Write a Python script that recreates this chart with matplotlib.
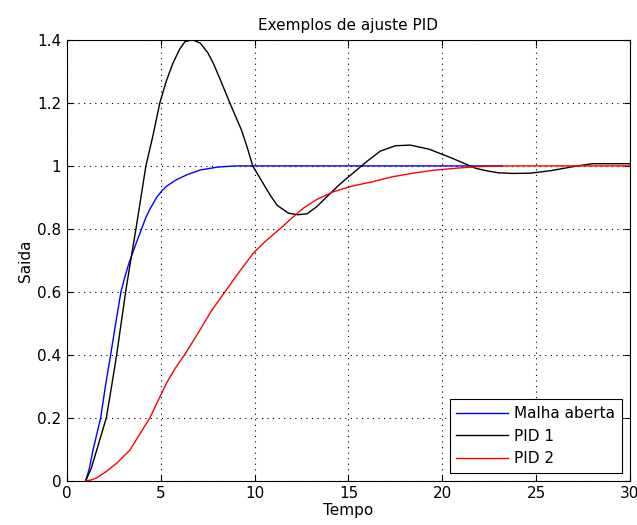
import matplotlib
matplotlib.use('Agg')
import matplotlib.pyplot as plt
from matplotlib.ticker import FormatStrFormatter

plt.rcParams['font.family'] = ['DejaVu Sans']
plt.rcParams['font.size'] = 11

# values
t_malha = [1, 1.2, 1.4, 1.6, 1.8, 2.05, 2.33, 2.6, 2.88, 3.1, 3.3, 3.6, 3.98, 4.2, 4.4, 4.78,
           5.05, 5.3, 5.8, 6.4, 7.1, 7.6, 8, 9, 23.2]
y_malha = [0, 0.04, 0.1, 0.15, 0.2, 0.3, 0.4, 0.5, 0.6, 0.65, 0.69, 0.74, 0.8, 0.835, 0.86, 0.9,
           0.92, 0.935, 0.955, 0.972, 0.987, 0.992, 0.996, 1.0, 1.0]

t_pid1 = [1, 1.3, 1.6, 1.85, 2.1, 2.38, 2.65, 3.13, 3.4, 3.68, 4.21, 4.6, 4.95, 5.3, 5.65, 6.0,
          6.3, 6.7, 7.1, 7.5, 7.8, 8.2, 8.68, 9.3, 9.6, 9.9, 10.2, 10.5, 10.8, 11.2, 11.8, 12.3,
          12.8, 13.3, 13.9, 14.6, 15.3, 16.0, 16.7, 17.5, 18.3, 19.3, 20.5, 21.8, 22.4, 23.0,
          23.8, 24.7, 25.8, 27.0, 28.0, 30]
y_pid1 = [0, 0.04, 0.1, 0.15, 0.2, 0.3, 0.4, 0.6, 0.7, 0.8, 1.0, 1.1, 1.2, 1.27, 1.326, 1.37,
          1.395, 1.40, 1.39, 1.36, 1.326, 1.27, 1.2, 1.114, 1.06, 1.0, 0.97, 0.94, 0.91, 0.875,
          0.85, 0.845, 0.848, 0.87, 0.905, 0.945, 0.98, 1.015, 1.047, 1.064, 1.066, 1.053, 1.025,
          0.992, 0.984, 0.978, 0.976, 0.977, 0.985, 0.998, 1.007, 1.007]

t_pid2 = [1, 1.3, 1.6, 2.1, 2.65, 3.36, 3.9, 4.42, 4.9, 5.31, 5.8, 6.3, 7.09, 7.7, 8.42, 9.2,
          9.93, 10.6, 11.35, 12.0, 12.6, 13.3, 14.2, 15.2, 16.3, 17.3, 18.45, 19.5, 20.8, 22, 23.4, 30]
y_pid2 = [0, 0.003, 0.01, 0.03, 0.056, 0.098, 0.15, 0.2, 0.26, 0.311, 0.36, 0.403, 0.479, 0.54,
          0.6, 0.665, 0.723, 0.762, 0.8, 0.835, 0.866, 0.893, 0.918, 0.936, 0.95, 0.965, 0.977,
          0.986, 0.993, 0.998, 1.0, 1.0]

fig = plt.figure(figsize=(6.37, 5.25), dpi=100)
ax = fig.add_axes([0.105, 0.084, 0.884, 0.840])

ax.plot(t_malha, y_malha, color='#0000ff', lw=1, label='Malha aberta')
ax.plot(t_pid1, y_pid1, color='black', lw=1, label='PID 1')
ax.plot(t_pid2, y_pid2, color='#ff0000', lw=1, label='PID 2')

ax.set_xlim(0, 30)
ax.set_ylim(0, 1.4)
ax.set_xticks(range(0, 31, 5))
ax.set_yticks([0, 0.2, 0.4, 0.6, 0.8, 1, 1.2, 1.4])
ax.yaxis.set_major_formatter(FormatStrFormatter('%g'))
ax.tick_params(direction='in', top=True, right=True, length=4, labelsize=11, pad=4)
ax.grid(True, color='black', linestyle=(0, (1, 4)), lw=0.8)

ax.set_title('Exemplos de ajuste PID', fontsize=11, pad=7)
ax.set_xlabel('Tempo', fontsize=11, labelpad=1)
ax.set_ylabel('Saida', fontsize=11, labelpad=3)

leg = ax.legend(loc='lower right', fancybox=False, framealpha=1, edgecolor='black',
                fontsize=11, borderaxespad=0.5, handlelength=3.4, handletextpad=0.4,
                labelspacing=0.5, borderpad=0.45)
leg.get_frame().set_linewidth(0.8)

plt.savefig('out.png', dpi=100)
